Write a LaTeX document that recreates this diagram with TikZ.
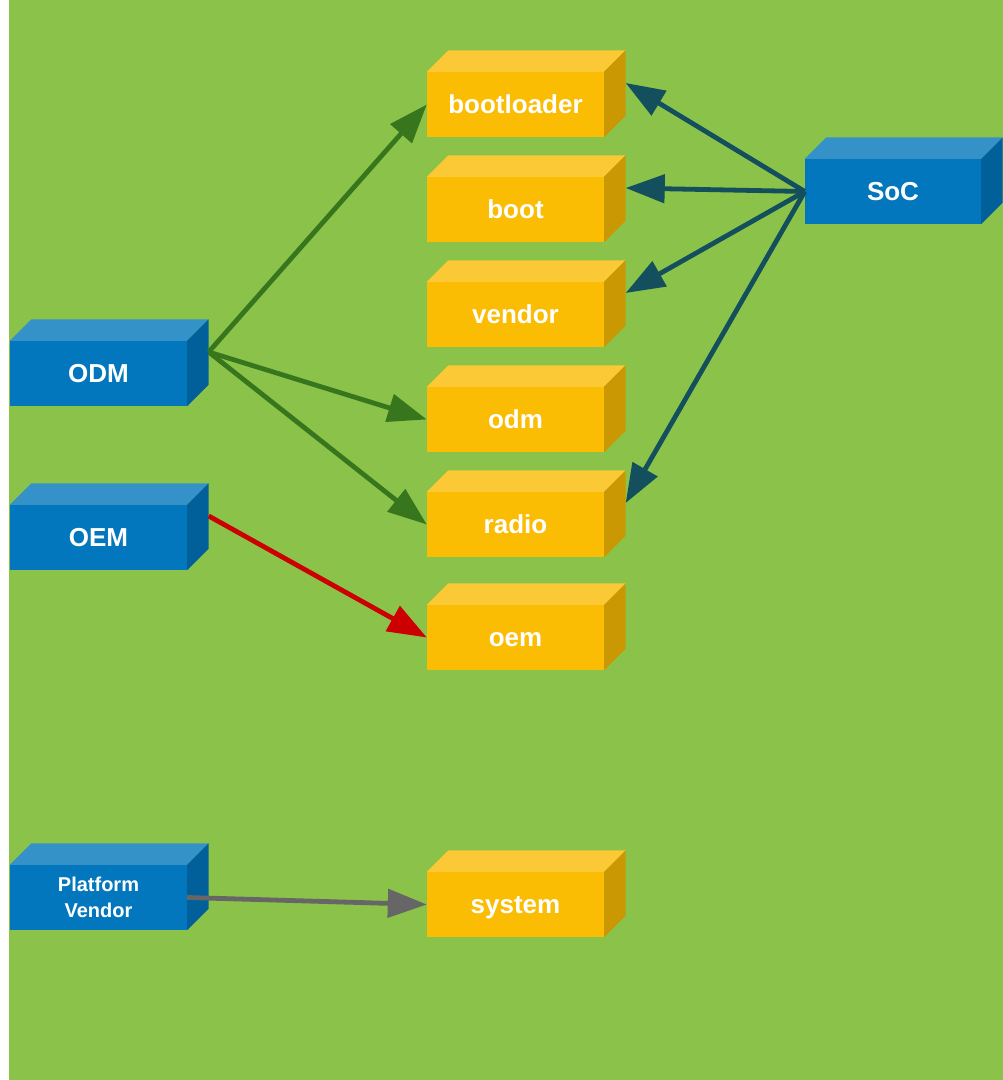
\documentclass[tikz,border=0pt]{standalone}
\usepackage{fontspec}
\setmainfont{Liberation Sans}
\usetikzlibrary{arrows.meta}

\definecolor{bg}{HTML}{8BC34A}
\definecolor{bluefront}{HTML}{0277BD}
\definecolor{bluetop}{HTML}{3592C9}
\definecolor{blueside}{HTML}{01609A}
\definecolor{ylwfront}{HTML}{FBBC04}
\definecolor{ylwtop}{HTML}{FBC935}
\definecolor{ylwside}{HTML}{C99803}
\definecolor{odmgreen}{HTML}{38761D}
\definecolor{socblue}{HTML}{134F5C}
\definecolor{oemred}{HTML}{CC0000}
\definecolor{pvgray}{HTML}{666666}

\tikzset{
  box/.style={minimum width=177pt, minimum height=65pt, inner sep=0pt,
    text=white, font=\bfseries\fontsize{26}{30}\selectfont, align=center},
  oneline/.style={text height=25pt, text depth=6pt},
  partbox/.style={box, oneline, fill=ylwfront},
  ownerbox/.style={box, fill=bluefront},
  link/.style={line width=4.8pt, -{Triangle[length=39pt,width=28pt]}},
}

\begin{document}
\begin{tikzpicture}[x=1pt,y=1pt]
  \def\d{21.5}
  \useasboundingbox (0,0) rectangle (1003,1080);
  \fill[white] (0,0) rectangle (9,1080);
  \fill[bg] (9,0) rectangle (1003,1080);

  % partitions
  \node[partbox] (bootloader) at (515.5,975.5) {bootloader};
  \node[partbox] (boot)       at (515.5,870.5) {boot};
  \node[partbox] (vendor)     at (515.5,765.5) {vendor};
  \node[partbox] (odm)        at (515.5,660.5) {odm};
  \node[partbox] (radio)      at (515.5,555.5) {radio};
  \node[partbox] (oem)        at (515.5,442.5) {oem};
  \node[partbox] (system)     at (515.5,175.5) {system};

  % owners
  \node[ownerbox, oneline] (ODM) at (98.5,706.5) {ODM};
  \node[ownerbox, oneline] (OEM) at (98.5,542.5) {OEM};
  \node[ownerbox, font=\bfseries\fontsize{20}{26}\selectfont] (PV) at (98.5,182.5) {Platform\\Vendor};
  \node[ownerbox, oneline, minimum width=176pt] (SoC) at (893,888.5) {SoC};

  % top and side faces of each block, plus the middle of its back edge
  \foreach \n/\c in {bootloader/ylw, boot/ylw, vendor/ylw, odm/ylw, radio/ylw,
                     oem/ylw, system/ylw, ODM/blue, OEM/blue, PV/blue, SoC/blue} {
    \fill[\c top] (\n.north west) -- ++(\d,\d) -- ([shift={(\d,\d)}]\n.north east)
      -- (\n.north east) -- cycle;
    \fill[\c side] (\n.north east) -- ++(\d,\d) -- ([shift={(\d,\d)}]\n.south east)
      -- (\n.south east) -- cycle;
    \coordinate (\n-back) at ([shift={(\d,\d)}]\n.east);
  }

  % ODM links
  \draw[link, odmgreen] (ODM-back) -- (bootloader.west);
  \draw[link, odmgreen] (ODM-back) -- (odm.west);
  \draw[link, odmgreen] (ODM-back) -- (radio.west);

  % OEM link
  \draw[link, oemred] (OEM-back) -- (oem.west);

  % Platform vendor link
  \draw[link, pvgray] (PV.east) -- (system.west);

  % SoC links
  \draw[link, socblue] (SoC.west) -- (bootloader-back);
  \draw[link, socblue] (SoC.west) -- (boot-back);
  \draw[link, socblue] (SoC.west) -- (vendor-back);
  \draw[link, socblue] (SoC.west) -- (radio-back);
\end{tikzpicture}
\end{document}
